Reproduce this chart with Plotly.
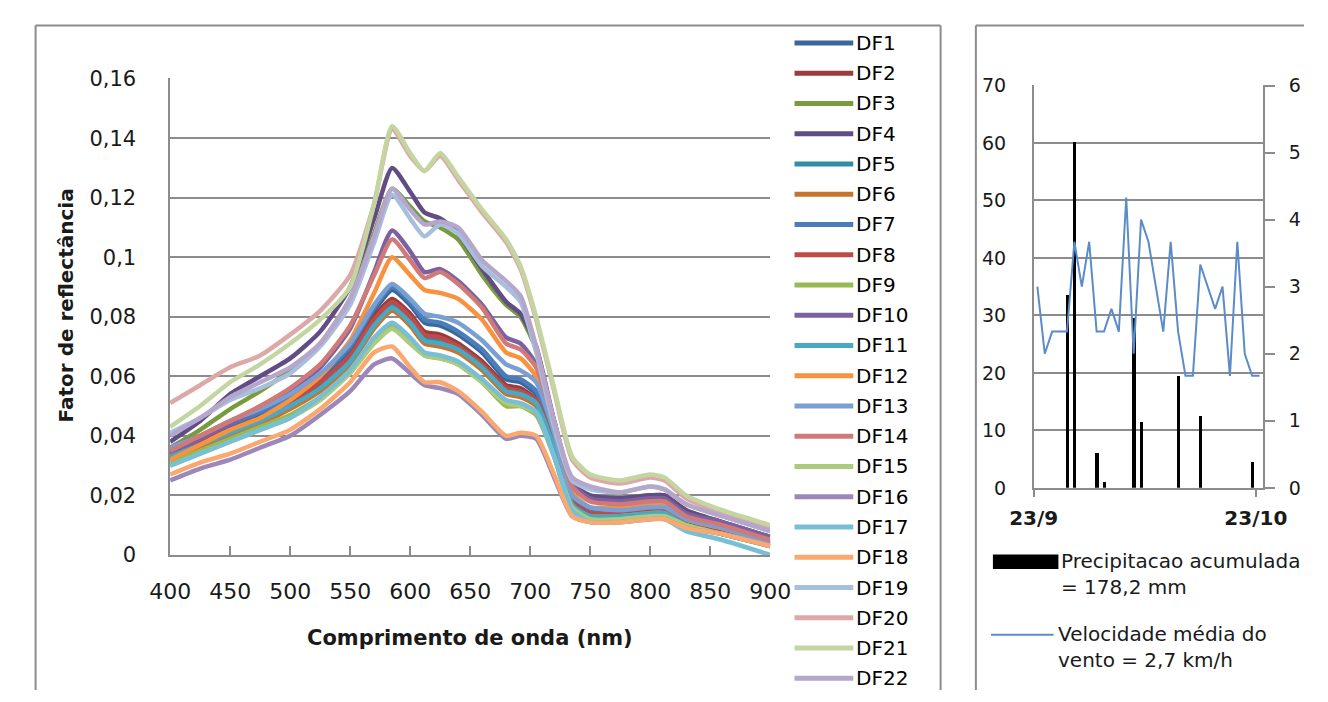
import pandas as pd
import plotly.graph_objects as go

# The page is opened at 1328x702 with no margin: figure pixels = page pixels.
W, H = 1328, 702

# ---------------- Left chart data: reflectance spectra ----------------
wavelengths = [400, 425, 450, 475, 500, 525, 550, 570, 585, 600, 612, 625, 640,
               660, 680, 692, 705, 720, 735, 750, 775, 800, 812, 830, 860, 900]

series_names = [f"DF{i}" for i in range(1, 23)]

DF1 = [0.035, 0.039, 0.043, 0.047, 0.052, 0.059, 0.069, 0.082, 0.089, 0.084, 0.078, 0.077, 0.074, 0.068, 0.059, 0.058, 0.054, 0.039, 0.019, 0.015, 0.014, 0.015, 0.015, 0.011, 0.008, 0.004]
DF2 = [0.033, 0.037, 0.041, 0.045, 0.050, 0.057, 0.067, 0.080, 0.086, 0.081, 0.075, 0.074, 0.071, 0.065, 0.057, 0.056, 0.052, 0.037, 0.018, 0.014, 0.014, 0.015, 0.015, 0.011, 0.008, 0.004]
DF3 = [0.036, 0.042, 0.049, 0.055, 0.062, 0.071, 0.086, 0.108, 0.123, 0.117, 0.112, 0.110, 0.106, 0.094, 0.084, 0.080, 0.069, 0.044, 0.024, 0.019, 0.019, 0.020, 0.020, 0.015, 0.011, 0.006]
DF4 = [0.038, 0.045, 0.054, 0.060, 0.066, 0.075, 0.090, 0.113, 0.130, 0.122, 0.115, 0.113, 0.108, 0.096, 0.085, 0.081, 0.070, 0.045, 0.024, 0.020, 0.019, 0.020, 0.020, 0.015, 0.011, 0.006]
DF5 = [0.033, 0.037, 0.041, 0.045, 0.050, 0.056, 0.066, 0.078, 0.084, 0.079, 0.073, 0.072, 0.070, 0.064, 0.056, 0.055, 0.051, 0.036, 0.017, 0.013, 0.013, 0.014, 0.014, 0.010, 0.007, 0.003]
DF6 = [0.032, 0.036, 0.040, 0.044, 0.049, 0.055, 0.064, 0.076, 0.082, 0.077, 0.071, 0.070, 0.068, 0.062, 0.054, 0.053, 0.050, 0.035, 0.016, 0.013, 0.013, 0.014, 0.014, 0.010, 0.007, 0.003]
DF7 = [0.036, 0.040, 0.044, 0.048, 0.053, 0.060, 0.070, 0.083, 0.090, 0.085, 0.079, 0.078, 0.075, 0.069, 0.060, 0.059, 0.055, 0.040, 0.020, 0.015, 0.015, 0.016, 0.016, 0.012, 0.009, 0.004]
DF8 = [0.034, 0.038, 0.042, 0.046, 0.051, 0.058, 0.067, 0.079, 0.085, 0.080, 0.074, 0.073, 0.070, 0.064, 0.056, 0.055, 0.052, 0.037, 0.018, 0.014, 0.014, 0.015, 0.015, 0.011, 0.008, 0.004]
DF9 = [0.031, 0.035, 0.039, 0.043, 0.047, 0.053, 0.062, 0.072, 0.077, 0.072, 0.067, 0.066, 0.064, 0.058, 0.050, 0.050, 0.047, 0.033, 0.016, 0.013, 0.013, 0.014, 0.014, 0.010, 0.007, 0.003]
DF10 = [0.034, 0.039, 0.044, 0.049, 0.055, 0.063, 0.076, 0.095, 0.109, 0.102, 0.095, 0.096, 0.092, 0.084, 0.073, 0.071, 0.064, 0.045, 0.024, 0.019, 0.018, 0.019, 0.019, 0.014, 0.011, 0.006]
DF11 = [0.033, 0.037, 0.041, 0.045, 0.050, 0.056, 0.065, 0.077, 0.083, 0.078, 0.072, 0.071, 0.069, 0.063, 0.055, 0.054, 0.051, 0.036, 0.017, 0.013, 0.013, 0.014, 0.014, 0.010, 0.007, 0.003]
DF12 = [0.032, 0.037, 0.042, 0.046, 0.052, 0.060, 0.072, 0.088, 0.100, 0.094, 0.089, 0.088, 0.086, 0.079, 0.068, 0.066, 0.060, 0.042, 0.021, 0.016, 0.016, 0.017, 0.017, 0.012, 0.009, 0.005]
DF13 = [0.036, 0.040, 0.045, 0.049, 0.054, 0.061, 0.071, 0.084, 0.091, 0.086, 0.081, 0.080, 0.078, 0.072, 0.064, 0.062, 0.058, 0.041, 0.020, 0.016, 0.015, 0.016, 0.016, 0.012, 0.009, 0.004]
DF14 = [0.035, 0.040, 0.045, 0.050, 0.056, 0.064, 0.077, 0.094, 0.106, 0.099, 0.093, 0.095, 0.091, 0.083, 0.071, 0.069, 0.063, 0.044, 0.023, 0.018, 0.017, 0.018, 0.018, 0.013, 0.010, 0.005]
DF15 = [0.030, 0.034, 0.038, 0.042, 0.046, 0.052, 0.061, 0.071, 0.076, 0.071, 0.067, 0.066, 0.064, 0.058, 0.051, 0.050, 0.048, 0.033, 0.016, 0.012, 0.012, 0.013, 0.013, 0.010, 0.007, 0.003]
DF16 = [0.025, 0.029, 0.032, 0.036, 0.040, 0.047, 0.055, 0.064, 0.066, 0.061, 0.057, 0.056, 0.054, 0.047, 0.039, 0.040, 0.039, 0.026, 0.013, 0.011, 0.011, 0.012, 0.012, 0.009, 0.007, 0.003]
DF17 = [0.030, 0.034, 0.038, 0.042, 0.046, 0.053, 0.062, 0.073, 0.078, 0.073, 0.068, 0.067, 0.065, 0.059, 0.052, 0.051, 0.048, 0.033, 0.015, 0.011, 0.011, 0.012, 0.012, 0.008, 0.005, 0.000]
DF18 = [0.027, 0.031, 0.034, 0.038, 0.042, 0.049, 0.058, 0.068, 0.070, 0.063, 0.058, 0.058, 0.055, 0.048, 0.040, 0.041, 0.040, 0.027, 0.013, 0.011, 0.011, 0.012, 0.012, 0.009, 0.007, 0.003]
DF19 = [0.041, 0.046, 0.052, 0.056, 0.061, 0.070, 0.084, 0.105, 0.121, 0.113, 0.107, 0.111, 0.108, 0.097, 0.090, 0.085, 0.068, 0.043, 0.025, 0.022, 0.021, 0.023, 0.022, 0.017, 0.013, 0.008]
DF20 = [0.051, 0.057, 0.063, 0.067, 0.074, 0.082, 0.094, 0.118, 0.143, 0.134, 0.129, 0.134, 0.126, 0.115, 0.105, 0.096, 0.079, 0.055, 0.032, 0.026, 0.024, 0.026, 0.025, 0.019, 0.014, 0.009]
DF21 = [0.043, 0.050, 0.058, 0.064, 0.071, 0.079, 0.090, 0.118, 0.144, 0.135, 0.129, 0.135, 0.127, 0.116, 0.106, 0.097, 0.080, 0.056, 0.033, 0.027, 0.025, 0.027, 0.026, 0.020, 0.015, 0.010]
DF22 = [0.040, 0.046, 0.053, 0.058, 0.063, 0.071, 0.086, 0.107, 0.123, 0.116, 0.111, 0.112, 0.110, 0.099, 0.092, 0.087, 0.070, 0.045, 0.026, 0.023, 0.021, 0.023, 0.022, 0.017, 0.013, 0.008]

spectra = [DF1, DF2, DF3, DF4, DF5, DF6, DF7, DF8, DF9, DF10, DF11,
           DF12, DF13, DF14, DF15, DF16, DF17, DF18, DF19, DF20, DF21, DF22]

series_colors = ["#3A669E", "#9A3D3A", "#7A9A3E", "#614C84", "#318DA5", "#C6732F",
                 "#4A7EBB", "#BE4B48", "#98B954", "#7D60A0", "#46AAC5", "#F69240",
                 "#7A9FD2", "#CF7A78", "#ADCB7D", "#9C87B9", "#76BFD4", "#F9A86F",
                 "#A8BEDD", "#DCA9A8", "#C3D6A2", "#B4A7CB"]

refl_tick_vals = [0, 0.02, 0.04, 0.06, 0.08, 0.10, 0.12, 0.14, 0.16]
refl_tick_text = ["0", "0,02", "0,04", "0,06", "0,08", "0,1", "0,12", "0,14", "0,16"]

# ---------------- Right chart data: rain and wind ----------------
dates = [d.strftime("%Y-%m-%d") for d in pd.date_range("2013-09-23", "2013-10-23", freq="D")]
precip_mm = [0, 0, 0, 0, 33.5, 60.2, 0, 0, 6.0, 1.0, 0, 0, 0, 29.5, 11.5, 0,
             0, 0, 0, 19.5, 0, 0, 12.5, 0, 0, 0, 0, 0, 0, 4.5, 0]
wind_kmh = [3.0, 2.0, 2.33, 2.33, 2.33, 3.67, 3.0, 3.67, 2.33, 2.33, 2.67, 2.33,
            4.33, 2.0, 4.0, 3.67, 3.0, 2.33, 3.67, 2.33, 1.67, 1.67, 3.33, 3.0,
            2.67, 3.0, 1.67, 3.67, 2.0, 1.67, 1.67]
date_tick_vals = ["2013-09-23", "2013-10-23"]
date_tick_text = ["23/9", "23/10"]

legend_rain = "Precipitacao acumulada<br>= 178,2 mm"
legend_wind = "Velocidade média do<br>vento = 2,7 km/h"


# ---------------- helpers for layout (page pixel -> paper) ----------------
def px(x):
    return x / W


def py(y):
    return 1 - y / H


GRID = "#8C8C8C"
TXT = "#1A1A1A"
FONT = "DejaVu Sans"
DAY_MS = 86400000

fig = go.Figure()

for name, vals, col in zip(series_names, spectra, series_colors):
    fig.add_trace(go.Scatter(
        x=wavelengths, y=vals, mode="lines", name=name,
        line=dict(color=col, width=4.5, shape="spline", smoothing=0.6),
        showlegend=False, xaxis="x", yaxis="y", hoverinfo="skip"))

fig.add_trace(go.Bar(
    x=dates, y=precip_mm, name="Precipitacao acumulada",
    xperiod=DAY_MS, xperiodalignment="middle", width=0.42 * DAY_MS,
    marker=dict(color="black", line=dict(width=0)),
    xaxis="x2", yaxis="y2", showlegend=False))

fig.add_trace(go.Scatter(
    x=dates, y=wind_kmh, name="Velocidade média do vento", mode="lines",
    xperiod=DAY_MS, xperiodalignment="middle",
    line=dict(color="#5B8CC8", width=2),
    xaxis="x2", yaxis="y3", showlegend=False))

axis_common = dict(showline=True, linecolor=GRID, linewidth=1.5, zeroline=False)

fig.update_layout(
    width=W, height=H, autosize=False,
    margin=dict(l=0, r=0, t=0, b=0, pad=0),
    paper_bgcolor="white", plot_bgcolor="white",
    bargap=0,
    xaxis=dict(domain=[px(150.7), px(773.7)], range=[400, 900],
               tickmode="linear", tick0=400, dtick=50,
               ticks="inside", ticklen=9, tickwidth=1.5, tickcolor=GRID,
               showgrid=False, anchor="y",
               tickfont=dict(family=FONT, size=22, color=TXT),
               ticklabelstandoff=16, **axis_common),
    yaxis=dict(domain=[py(562.3), py(69.3)], range=[0, 0.1602],
               tickmode="array", tickvals=refl_tick_vals, ticktext=refl_tick_text,
               ticks="", showgrid=True, gridcolor=GRID, gridwidth=1.5,
               anchor="x",
               tickfont=dict(family=FONT, size=21, color=TXT),
               ticklabelstandoff=28, **axis_common),
    xaxis2=dict(domain=[px(1047.3), px(1285.7)], type="date",
                range=["2013-09-23", "2013-10-24"],
                tickmode="array", tickvals=date_tick_vals, ticktext=date_tick_text,
                ticks="outside", ticklen=7, tickwidth=1.5, tickcolor=GRID,
                showgrid=False, anchor="y2",
                tickfont=dict(family=FONT, size=20, color=TXT, weight="bold"),
                ticklabelstandoff=4, **axis_common),
    yaxis2=dict(domain=[py(493), py(76.7)], range=[0, 70.05],
                tickmode="linear", tick0=0, dtick=10,
                ticks="", showgrid=True, gridcolor=GRID, gridwidth=1.5,
                anchor="x2",
                tickfont=dict(family=FONT, size=19, color=TXT),
                ticklabelstandoff=22, **axis_common),
    yaxis3=dict(overlaying="y2", side="right", anchor="x2", range=[0, 6.005],
                tickmode="linear", tick0=0, dtick=1,
                ticks="outside", ticklen=10, tickwidth=1.5, tickcolor=GRID,
                showgrid=False,
                tickfont=dict(family=FONT, size=19, color=TXT),
                ticklabelstandoff=10, **axis_common),
)

shapes = []
annotations = []

# chart frames: open at the bottom (and the right one at the right), like the cropped original
frame = dict(color=GRID, width=2)
for (xa, ya, xb, yb) in [(11, 15, 950.7, 15), (11, 15, 11, 702), (950.7, 15, 950.7, 702),
                         (987.3, 15, 1328, 15), (987.3, 15, 987.3, 702)]:
    shapes.append(dict(type="line", xref="paper", yref="paper",
                       x0=px(xa), x1=px(xb), y0=py(ya), y1=py(yb), line=frame))

# left chart legend
for i, (name, col) in enumerate(zip(series_names, series_colors)):
    yy = 33 + i * 31.28
    shapes.append(dict(type="line", xref="paper", yref="paper",
                       x0=px(799), x1=px(860), y0=py(yy), y1=py(yy),
                       line=dict(color=col, width=5)))
    annotations.append(dict(xref="paper", yref="paper", x=px(861), y=py(yy),
                            xanchor="left", yanchor="middle", showarrow=False,
                            text=name, font=dict(family=FONT, size=20, color="black")))

# axis titles of the left chart
annotations.append(dict(xref="paper", yref="paper", x=px(462), y=py(648),
                        xanchor="center", yanchor="middle", showarrow=False,
                        text="Comprimento de onda (nm)",
                        font=dict(family=FONT, size=21, color=TXT, weight="bold")))
annotations.append(dict(xref="paper", yref="paper", x=px(43), y=py(304),
                        xanchor="center", yanchor="middle", showarrow=False,
                        textangle=-90, text="Fator de reflectância",
                        font=dict(family=FONT, size=20, color=TXT, weight="bold")))

# right chart legend
shapes.append(dict(type="rect", xref="paper", yref="paper",
                   x0=px(1005), x1=px(1073), y0=py(577), y1=py(562),
                   line=dict(width=0), fillcolor="black"))
shapes.append(dict(type="line", xref="paper", yref="paper",
                   x0=px(1003), x1=px(1068), y0=py(645), y1=py(645),
                   line=dict(color="#5B8CC8", width=2)))
annotations.append(dict(xref="paper", yref="paper", x=px(1074), y=py(554),
                        xanchor="left", yanchor="top", align="left", showarrow=False,
                        text=legend_rain, font=dict(family=FONT, size=20, color=TXT)))
annotations.append(dict(xref="paper", yref="paper", x=px(1070), y=py(630),
                        xanchor="left", yanchor="top", align="left", showarrow=False,
                        text=legend_wind, font=dict(family=FONT, size=20, color=TXT)))

fig.update_layout(shapes=shapes, annotations=annotations)

fig.write_html("out.html", config={"displayModeBar": False})
